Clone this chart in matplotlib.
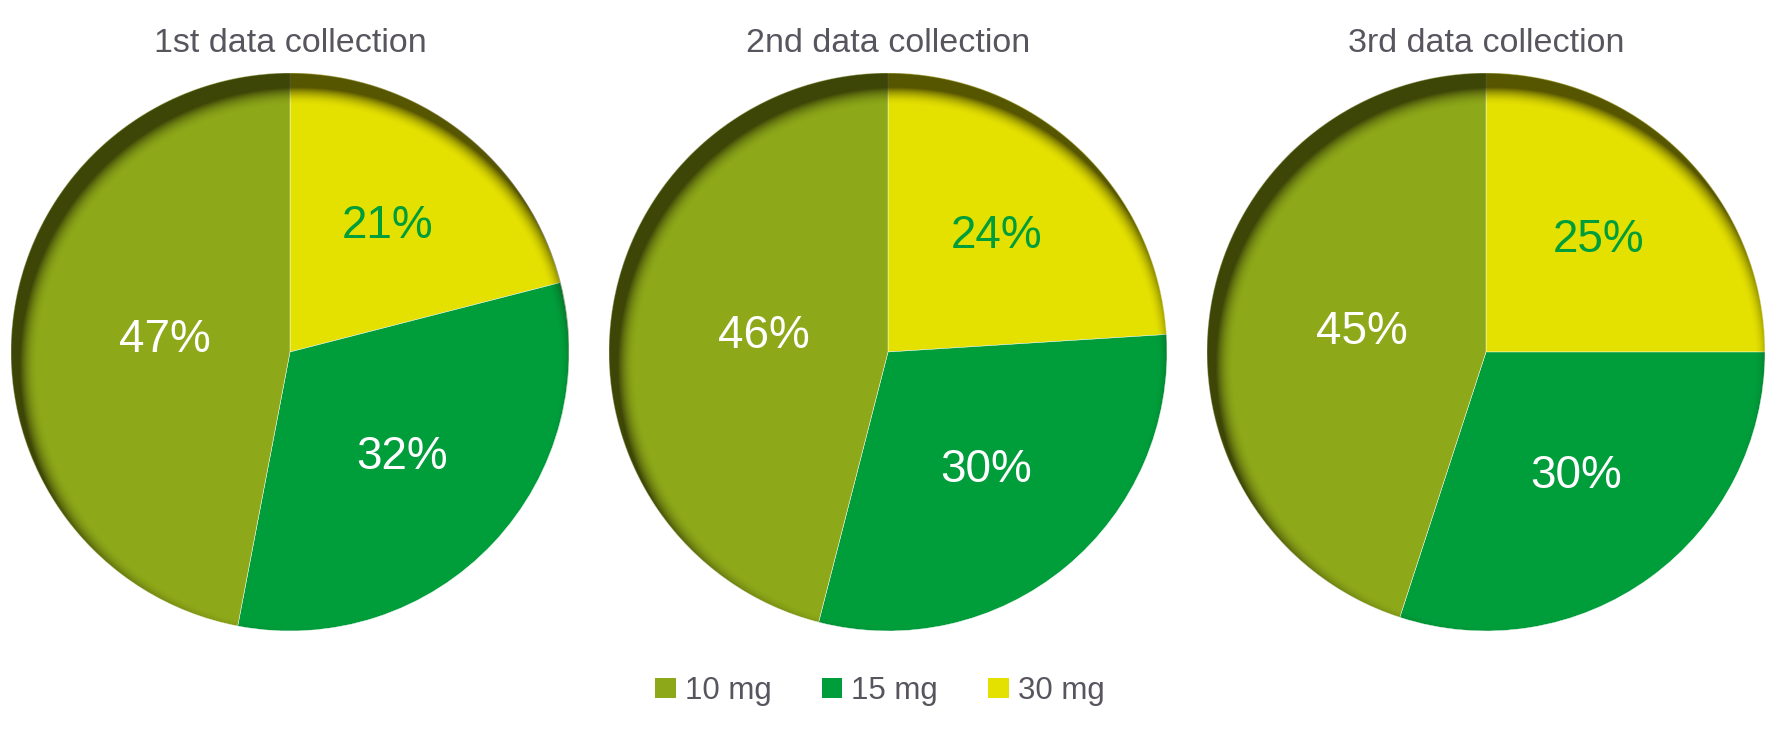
import matplotlib

matplotlib.use('agg')

import matplotlib.pyplot as plt
import numpy as np
from matplotlib.patches import Circle, Patch

# data: one list of shares per collection, order 10 mg, 15 mg, 30 mg
doses = ["10 mg", "15 mg", "30 mg"]
titles = ["1st data collection", "2nd data collection", "3rd data collection"]
first = [47, 32, 21]
second = [46, 30, 24]
third = [45, 30, 25]
collections = [first, second, third]

colors = ["#8da819", "#009d3b", "#e4e000"]
label_colors = ["white", "white", "#009d3b"]
label_dist = [0.45, 0.55, 0.57]
text_gray = "#58555f"

plt.rcParams['font.family'] = ['Liberation Sans', 'DejaVu Sans']

W, H = 17.75, 7.34
fig = plt.figure(figsize=(W, H), dpi=100)

centers_x = [290, 888, 1486]
cy, r = 352, 279


def inner_shadow(ax):
    n = 800
    xs = np.linspace(-1, 1, n)
    X, Y = np.meshgrid(xs, xs[::-1])
    ox, oy = 0.03, -0.05
    s = 1 - np.hypot(X - ox, Y - oy)
    a = np.clip(1 - s / 0.065, 0, 1) ** 2 * 0.72
    # alpha falls to zero just outside the rim, so no dark fringe remains
    rim = np.clip((1.0 - np.hypot(X, Y)) / 0.004 + 0.6, 0, 1)
    img = np.zeros((n, n, 4))
    img[..., 3] = a * rim
    img[..., 0] = 0.12
    img[..., 1] = 0.12
    im = ax.imshow(img, extent=[-1, 1, -1, 1], zorder=3, interpolation='bilinear')
    im.set_clip_path(Circle((0, 0), 1.003, transform=ax.transData))


for cx, vals, title in zip(centers_x, collections, titles):
    ax = fig.add_axes([(cx - r) / 1775, (734 - cy - r) / 734, 2 * r / 1775, 2 * r / 734])
    # clockwise from 12 o'clock: 30 mg, 15 mg, 10 mg
    order = [2, 1, 0]
    wedges, _ = ax.pie([vals[i] for i in order], colors=[colors[i] for i in order],
                       startangle=90, counterclock=False, radius=1,
                       wedgeprops=dict(edgecolor='white', linewidth=0.3))
    for w, i in zip(wedges, order):
        mid = np.deg2rad((w.theta1 + w.theta2) / 2)
        d = label_dist[i]
        ax.text(d * np.cos(mid), d * np.sin(mid), f"{vals[i]}%", ha='center', va='center',
                fontsize=33, color=label_colors[i], zorder=5)
    inner_shadow(ax)
    ax.set_xlim(-1, 1)
    ax.set_ylim(-1, 1)
    ax.set_aspect('equal')
    ax.axis('off')
    fig.text(cx / 1775, 1 - 44 / 734, title, ha='center', va='center',
             fontsize=24.5, color=text_gray)

handles = [Patch(facecolor=c, edgecolor='none') for c in colors]
fig.legend(handles, doses, loc='center', bbox_to_anchor=(880 / 1775, 1 - 691 / 734),
           ncol=3, frameon=False, fontsize=22.5, labelcolor=text_gray,
           handlelength=0.65, handleheight=0.65, handletextpad=0.3, columnspacing=1.6)

fig.savefig('out.png', dpi=100)
